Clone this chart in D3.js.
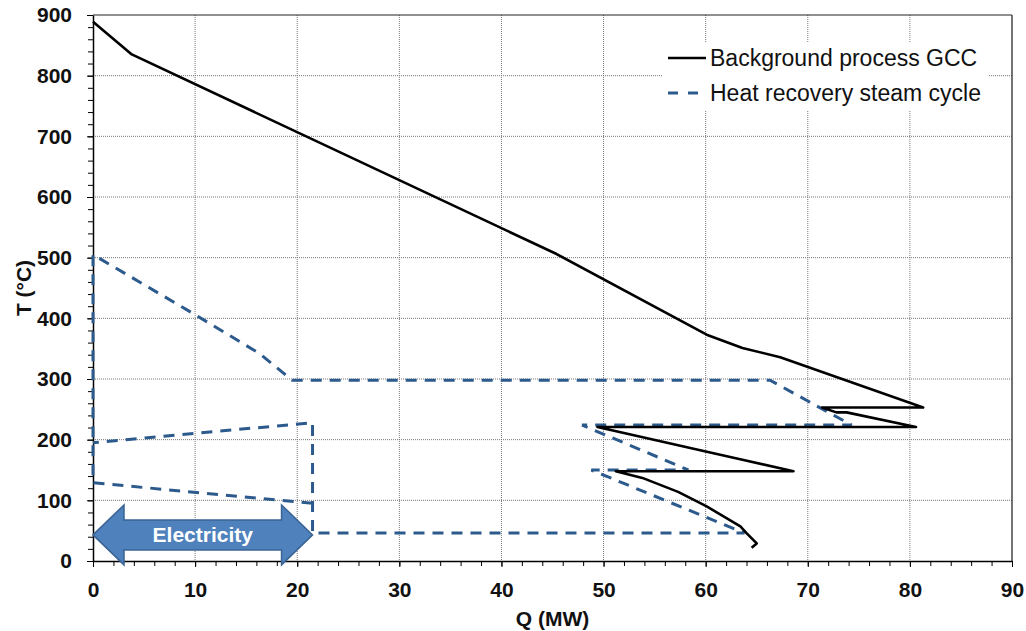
<!DOCTYPE html>
<html lang="en">
<head>
<meta charset="utf-8">
<title>GCC and heat recovery steam cycle</title>
<script src="https://d3js.org/d3.v7.min.js"></script>
<style>
body { margin: 0; background: #fff; }
text { font-family: "Liberation Sans", Arial, sans-serif; }
</style>
</head>
<body>
<div id="chart"></div>
<script>

// Background process GCC (Q in MW, T in degC)
var gccQ = [0, 3.8, 45.4, 60.1, 63.6, 67.3, 81.3, 71.4, 72.8, 73.8, 80.6, 49.4, 59.9, 63.6, 68.6, 51.2, 53.8, 57.3, 60.1, 63.4, 64.0, 65.0, 64.5];
var gccT = [889, 835, 506, 373, 351, 336, 253, 253, 245, 245, 221, 221, 181, 167, 148, 148, 137, 114, 90, 57, 46, 29, 22];

// Heat recovery steam cycle
var steamQ = [21.5, 0, 0, 10.1, 16.3, 19.5, 66.3, 74.3, 47.9, 58.3, 48.8, 63.8, 21.5, 21.5, 0];
var steamT = [95, 129, 505, 405, 342, 298, 298, 224, 224, 150, 150, 46, 46, 228, 195];

// Electricity arrow (from Q to Q, at T)
var arrowQ = [0, 21.5];
var arrowT = 43;

var xTicks = [0, 10, 20, 30, 40, 50, 60, 70, 80, 90];
var yTicks = [0, 100, 200, 300, 400, 500, 600, 700, 800, 900];

var margin = {top: 15, right: 14, bottom: 70, left: 93},
    width = 1026 - margin.left - margin.right,
    height = 631 - margin.top - margin.bottom;

var svg = d3.select("#chart")
  .append("svg")
    .attr("width", 1026)
    .attr("height", 631)
  .append("g")
    .attr("transform", "translate(" + margin.left + "," + margin.top + ")");

var x = d3.scaleLinear().domain([0, 90]).range([0, width]);
var y = d3.scaleLinear().domain([0, 900]).range([height, 0]);

// grid
svg.append("g").selectAll("line")
  .data(xTicks.slice(1, -1))
  .enter().append("line")
    .attr("x1", function(d){ return x(d); })
    .attr("x2", function(d){ return x(d); })
    .attr("y1", 0).attr("y2", height)
    .attr("stroke", "#777").attr("stroke-dasharray", "1,1");
svg.append("g").selectAll("line")
  .data(yTicks.slice(1, -1))
  .enter().append("line")
    .attr("y1", function(d){ return y(d); })
    .attr("y2", function(d){ return y(d); })
    .attr("x1", 0).attr("x2", width)
    .attr("stroke", "#777").attr("stroke-dasharray", "1,1");

// frame top and right
svg.append("line").attr("x1", 0).attr("x2", width).attr("y1", 0).attr("y2", 0)
  .attr("stroke", "#222").attr("stroke-width", 1.2);
svg.append("line").attr("x1", width).attr("x2", width).attr("y1", 0).attr("y2", height)
  .attr("stroke", "#444").attr("stroke-width", 1.5);

// minor ticks
svg.append("g")
  .attr("transform", "translate(0," + height + ")")
  .call(d3.axisBottom(x).tickValues(d3.range(0, 91, 2)).tickSize(5).tickFormat(""))
  .call(function(g){ g.select(".domain").remove(); });
svg.append("g")
  .call(d3.axisLeft(y).tickValues(d3.range(0, 901, 20)).tickSize(5).tickFormat(""))
  .call(function(g){ g.select(".domain").remove(); });

// axes
var xAxis = svg.append("g")
  .attr("transform", "translate(0," + height + ")")
  .call(d3.axisBottom(x).tickValues(xTicks).tickSize(6).tickSizeOuter(0).tickPadding(15));
var yAxis = svg.append("g")
  .call(d3.axisLeft(y).tickValues(yTicks).tickSize(6).tickSizeOuter(0).tickPadding(15));
[xAxis, yAxis].forEach(function(g){
  g.select(".domain").attr("stroke-width", 1.5);
  g.selectAll("text")
    .style("font-family", "'Liberation Sans', Arial, sans-serif")
    .style("font-size", "21px")
    .style("font-weight", "bold")
    .attr("fill", "#111");
});

// axis labels
svg.append("text")
  .attr("text-anchor", "middle")
  .attr("x", width / 2)
  .attr("y", height + 65)
  .text("Q (MW)")
  .attr("font-size", "21px")
  .attr("font-weight", "bold")
  .attr("fill", "#111");
svg.append("text")
  .attr("text-anchor", "middle")
  .attr("transform", "translate(" + (31 - margin.left) + "," + (height / 2) + ") rotate(-90)")
  .text("T (°C)")
  .attr("font-size", "21px")
  .attr("font-weight", "bold")
  .attr("fill", "#111");

var line = d3.line()
  .x(function(d){ return x(d[0]); })
  .y(function(d){ return y(d[1]); });

// steam cycle
svg.append("path")
  .datum(d3.zip(steamQ, steamT))
  .attr("d", line)
  .attr("fill", "none")
  .attr("stroke", "#2c5a8c")
  .attr("stroke-width", 3)
  .attr("stroke-dasharray", "11,8");

// GCC
svg.append("path")
  .datum(d3.zip(gccQ, gccT))
  .attr("d", line)
  .attr("fill", "none")
  .attr("stroke", "#000")
  .attr("stroke-width", 2.6)
  .attr("stroke-linejoin", "round");

// Electricity arrow
var ax0 = x(arrowQ[0]), ax1 = x(arrowQ[1]), ay = y(arrowT);
var headL = 31, headH = 30, shaftH = 15;
var arrowPts = [
  [ax0, ay], [ax0 + headL, ay - headH], [ax0 + headL, ay - shaftH],
  [ax1 - headL, ay - shaftH], [ax1 - headL, ay - headH], [ax1, ay],
  [ax1 - headL, ay + headH], [ax1 - headL, ay + shaftH],
  [ax0 + headL, ay + shaftH], [ax0 + headL, ay + headH]
];
svg.append("polygon")
  .attr("points", arrowPts.map(function(p){ return p.join(","); }).join(" "))
  .attr("fill", "#4f81bd")
  .attr("stroke", "#3a6494")
  .attr("stroke-width", 1.5);
svg.append("text")
  .attr("x", (ax0 + ax1) / 2)
  .attr("y", ay)
  .attr("dy", "0.36em")
  .attr("text-anchor", "middle")
  .text("Electricity")
  .attr("font-size", "21px")
  .attr("font-weight", "bold")
  .attr("fill", "#fff");

// Legend
var lg = svg.append("g").attr("transform", "translate(" + (662 - margin.left) + "," + (42 - margin.top) + ")");
lg.append("rect").attr("width", 326).attr("height", 68).attr("fill", "#fff");
lg.append("line").attr("x1", 6).attr("x2", 44).attr("y1", 16).attr("y2", 16)
  .attr("stroke", "#000").attr("stroke-width", 2.6);
lg.append("line").attr("x1", 6).attr("x2", 44).attr("y1", 51).attr("y2", 51)
  .attr("stroke", "#2c5a8c").attr("stroke-width", 3).attr("stroke-dasharray", "10,10");
lg.append("text").attr("x", 48).attr("y", 16).attr("dy", "0.35em")
  .text("Background process GCC").attr("font-size", "23px").attr("fill", "#111");
lg.append("text").attr("x", 48).attr("y", 51).attr("dy", "0.35em")
  .text("Heat recovery steam cycle").attr("font-size", "23px").attr("fill", "#111");

</script>
</body>
</html>
